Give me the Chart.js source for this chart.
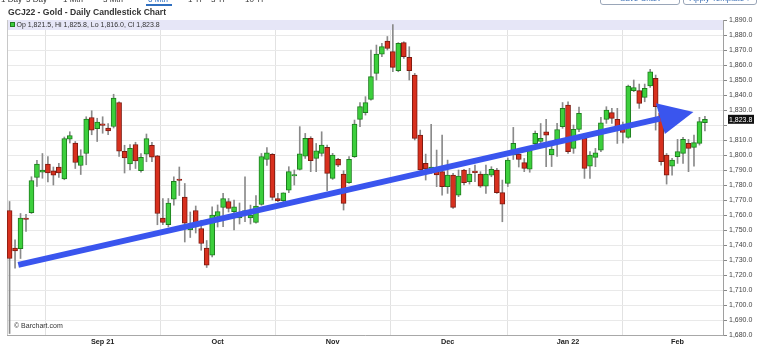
<!DOCTYPE html>
<html><head><meta charset="utf-8">
<script src="https://cdn.jsdelivr.net/npm/chart.js@4.4.1/dist/chart.umd.min.js"></script>
<style>
html,body{margin:0;padding:0;background:#fff;width:765px;height:352px;overflow:hidden;font-family:"Liberation Sans",Arial,sans-serif;}
#wrap{position:relative;width:765px;height:352px;overflow:hidden;}
#c{position:absolute;left:0;top:0;}
.t{position:absolute;white-space:nowrap;line-height:1;}
.tab{font-size:8px;color:#333;top:-3.8px;}
.btn{position:absolute;top:-9px;height:14px;border:1px solid #9aa6b8;border-radius:3px;font-size:8px;color:#3b6fb6;line-height:14px;text-align:center;box-sizing:border-box;}
</style></head>
<body><div id="wrap">
<canvas id="c" width="765" height="352"></canvas>
<div class="t tab" style="left:1px">1 Day</div>
<div class="t tab" style="left:26px">5 Day</div>
<div class="t tab" style="left:63px">1 Mth</div>
<div class="t tab" style="left:103px">3 Mth</div>
<div class="t tab" style="left:148px;color:#2f6fc0">6 Mth</div>
<div style="position:absolute;left:146px;top:4px;width:26px;height:1.5px;background:#2f6fc0"></div>
<div class="t tab" style="left:188px">1 Yr</div>
<div class="t tab" style="left:211px">3 Yr</div>
<div class="t tab" style="left:245px">10 Yr</div>
<div class="btn" style="left:600px;width:80px">Save Chart</div>
<div class="btn" style="left:683px;width:74px">Apply Template ▾</div>
<div class="t" style="left:8px;top:8.2px;font-size:8.6px;font-weight:bold;color:#333">GCJ22 - Gold - Daily Candlestick Chart</div>
<div style="position:absolute;left:10px;top:21.7px;width:5px;height:5px;background:#3ccf3c;border:1px solid #1e7d1e;box-sizing:border-box"></div>
<div class="t" style="left:16.5px;top:20.8px;font-size:7px;color:#333" id="ohlc"></div>
<div class="t" style="left:14px;top:322px;font-size:7px;color:#333">© Barchart.com</div>
</div>
<script>
const opens  = [1763,1738,1737.5,1758,1761.5,1785,1788.5,1794,1789.5,1792,1784,1810.5,1808,1793,1801,1825,1817.5,1820.5,1818,1819,1835,1802.5,1794,1807,1789.5,1800.5,1806.5,1799.5,1758,1753.5,1770.5,1783.5,1772,1750,1763,1751,1738,1733.3,1759,1765,1769,1762.2,1758,1762,1758,1755,1767,1797,1800.5,1771,1769.5,1776.6,1786,1790.4,1799.3,1811.1,1797.7,1801.1,1805.1,1784.4,1797.1,1787.3,1781.5,1798.9,1823.7,1828.2,1837.1,1854.4,1867.3,1876,1868.9,1856.2,1874.9,1865.1,1853.3,1813.3,1794.4,1790,1790,1788.9,1778.9,1786.6,1773.3,1790,1782.2,1788.5,1787.3,1779.3,1786.6,1790,1774.9,1781.1,1800,1800.6,1794.9,1790.5,1807.5,1809,1815.5,1800,1810,1818.9,1833.3,1804.4,1817.1,1811.1,1792.6,1798.4,1803.3,1823.7,1828.2,1823.7,1818,1811.8,1842.9,1842.9,1838.4,1846,1851.1,1828,1800,1792.6,1798.9,1801.1,1807.7,1805.1,1807.7,1821.5];
const highs  = [1769,1743.5,1761,1760.5,1785.5,1796.5,1801,1799,1792,1794.5,1812,1815.5,1809,1803.5,1825.5,1829.5,1824.5,1825.5,1821,1840.5,1835.5,1806.5,1807,1808.5,1801,1814,1808.5,1799.8,1771,1771,1785.5,1792,1781,1762,1766,1756.5,1743,1765.5,1766.7,1774.4,1771,1770,1768,1785.5,1766.6,1773,1801,1805,1801,1774.4,1774.8,1792.2,1790,1818.9,1814.4,1812.2,1807.7,1815.5,1806.6,1801.1,1797.7,1789.5,1798.9,1823.3,1834.9,1838.9,1870,1873.3,1874.4,1879,1887,1874.9,1875.5,1872.2,1854.4,1816.6,1800.6,1820.4,1803.3,1813.3,1796.6,1787.7,1790,1790.4,1791.1,1793.3,1788.9,1793.3,1792.2,1791.1,1783.3,1798,1818.4,1803.4,1797.7,1805,1816,1821,1823.7,1808.9,1821.1,1835,1835.5,1820,1832,1814.4,1802.2,1804.4,1825.1,1832.2,1831.1,1831.1,1822,1846.6,1850,1847.3,1847.3,1857.1,1853.3,1830,1801,1797.7,1810.4,1811.7,1810.4,1813.3,1825.1,1825.8];
const lows   = [1681,1724.5,1731,1749,1761,1779,1784.5,1782,1780,1785,1783.5,1808,1791,1787,1793.5,1813.5,1809,1814.5,1813.5,1818,1799,1788,1790,1791,1788.5,1795.5,1795.5,1753.5,1753.5,1752,1766.5,1773,1742,1745,1748,1736.5,1725,1732,1752,1752.2,1762,1750,1754,1755.5,1754,1754.5,1766.5,1793,1770,1768.9,1768.9,1774.9,1780,1790,1797.7,1788.9,1788.9,1799.3,1776.2,1783.7,1792.2,1763.3,1781.1,1798.4,1818.9,1826.6,1836.6,1850,1865.5,1870,1855.5,1855.5,1864.4,1850,1810,1788.9,1783.3,1787.8,1778.9,1773.3,1774.4,1764.4,1772.2,1780,1780.6,1782.2,1778.4,1774.4,1785.5,1774.4,1755.5,1779,1797,1792,1788.9,1788.5,1806,1808,1792.2,1792.3,1799,1817.8,1801.1,1801.1,1815.5,1784.4,1784.4,1792.2,1802.2,1821.1,1821.1,1807.7,1808,1811.1,1842.2,1831.1,1835.5,1845.1,1816.6,1793.3,1780.6,1786.6,1794.4,1794.4,1788.9,1792.6,1806.6,1816.0];
const closes = [1731,1736,1758,1757,1783,1794,1790,1788,1786.5,1788,1811,1813,1795,1799.5,1824,1816.5,1822,1819.8,1816,1838,1802.5,1798,1804.5,1796,1798.5,1811,1798.5,1761,1755,1768,1782.5,1783,1754.5,1754,1752,1741,1726.5,1760,1762.2,1771,1764.4,1765.5,1761,1762.6,1760,1766,1799,1801.5,1771.7,1769.5,1774.8,1788.9,1786.5,1800.7,1811.1,1796.2,1802.8,1806.6,1787.8,1800,1793.3,1767.8,1797.1,1820.6,1832.2,1834.9,1852.2,1867.3,1872.2,1871,1858.4,1874.4,1865.5,1856.2,1811.1,1790,1790.8,1792,1786.7,1778.9,1786.6,1765.1,1786,1781.5,1787.3,1788.2,1779.3,1787.3,1790.4,1774.9,1767.3,1796.6,1807.7,1797,1791.1,1803,1814.5,1811.1,1813.3,1804,1817,1831.1,1802.2,1817.1,1827.7,1791.1,1800,1801.5,1821.5,1830,1824.4,1818.9,1815,1846,1845,1834.4,1844.4,1855.5,1832.2,1795.5,1786.6,1796.6,1802.2,1810.4,1804.4,1808.2,1822.2,1823.8];

const monthTickIdx    = [17, 38, 59, 80, 102, 122];
const monthTickLabels = ['Sep 21', 'Oct', 'Nov', 'Dec', 'Jan 22', 'Feb'];

// trend arrow (index, price)
const trendX = [1.59, 118.8];
const trendY = [1726.7, 1824.3];
const headX  = [118.04, 124.9, 119.69];
const headY  = [1834.5, 1828.7, 1814.0];

const UP_FILL='#3ccf3c', UP_LINE='#1e7d1e', DN_FILL='#d8301e', DN_LINE='#7d1a10', WICK='#8a8a8a', ARROW='#3a55ee';
const last = closes.length - 1;
const fmt = v => v.toLocaleString('en-US',{minimumFractionDigits:1,maximumFractionDigits:1});
document.getElementById('ohlc').textContent = 'Op ' + fmt(opens[last]) + ', Hi ' + fmt(highs[last]) + ', Lo ' + fmt(lows[last]) + ', Cl ' + fmt(closes[last]);

const idx = opens.map((_, i) => i);
const isUp = i => closes[i] >= opens[i];

const decor = {
  id: 'decor',
  beforeDatasetsDraw(chart) {
    const {ctx, chartArea: a} = chart;
    ctx.save();
    ctx.fillStyle = '#e6e6f7';
    ctx.fillRect(a.left, a.top, a.right - a.left, 10);
    ctx.strokeStyle = '#c8c8c8'; ctx.lineWidth = 1;
    ctx.beginPath(); ctx.moveTo(a.left + 0.5, a.top); ctx.lineTo(a.left + 0.5, a.bottom); ctx.stroke();
    ctx.restore();
  },
  afterDatasetsDraw(chart) {
    const {ctx, scales: {x, y}} = chart;
    ctx.save();
    ctx.strokeStyle = ARROW; ctx.fillStyle = ARROW; ctx.lineWidth = 6; ctx.lineCap = 'butt';
    ctx.beginPath();
    ctx.moveTo(x.getPixelForValue(trendX[0]), y.getPixelForValue(trendY[0]));
    ctx.lineTo(x.getPixelForValue(trendX[1]), y.getPixelForValue(trendY[1]));
    ctx.stroke();
    ctx.beginPath();
    headX.forEach((hx, k) => {
      const px = x.getPixelForValue(hx), py = y.getPixelForValue(headY[k]);
      if (k) ctx.lineTo(px, py); else ctx.moveTo(px, py);
    });
    ctx.closePath(); ctx.fill();
    ctx.restore();
  },
  afterDraw(chart) {
    const {ctx, scales: {y}, chartArea: a} = chart;
    const py = y.getPixelForValue(closes[last]);
    ctx.save();
    ctx.fillStyle = '#111';
    ctx.fillRect(a.right + 5, py - 4.5, 26, 9);
    ctx.fillStyle = '#fff'; ctx.font = '7px "Liberation Sans", Arial, sans-serif';
    ctx.textBaseline = 'middle'; ctx.textAlign = 'left';
    ctx.fillText(fmt(closes[last]), a.right + 6, py + 0.5);
    ctx.restore();
  }
};

new Chart(document.getElementById('c'), {
  type: 'bar',
  data: {
    datasets: [
      {
        label: 'body',
        data: idx.map(i => ({x: i, y: [opens[i], closes[i]]})),
        backgroundColor: c => isUp(c.dataIndex) ? UP_FILL : DN_FILL,
        borderColor: c => isUp(c.dataIndex) ? UP_LINE : DN_LINE,
        borderWidth: 1, borderSkipped: false,
        barThickness: 5, grouped: false, minBarLength: 1.5
      },
      {
        label: 'wick',
        data: idx.map(i => ({x: i, y: [lows[i], highs[i]]})),
        backgroundColor: WICK, borderWidth: 0,
        barThickness: 1, grouped: false
      }
    ]
  },
  options: {
    responsive: false, animation: false,
    layout: {padding: {left: 7, top: 20, right: 0, bottom: 0}},
    plugins: {legend: {display: false}, tooltip: {enabled: false}},
    scales: {
      x: {
        type: 'linear', min: -0.47, max: 130.3, offset: false,
        afterBuildTicks: s => { s.ticks = monthTickIdx.map(v => ({value: v})); },
        afterFit: s => { s.height = 17; },
        ticks: {
          autoSkip: false, maxRotation: 0, padding: 3,
          callback: v => monthTickLabels[monthTickIdx.indexOf(v)],
          font: {family: '"Liberation Sans", Arial, sans-serif', size: 7.3, weight: 'bold'}, color: '#222'
        },
        grid: {color: '#e2e2e2', drawTicks: false},
        border: {color: '#a8a8a8'}
      },
      y: {
        position: 'right', min: 1680, max: 1890,
        afterFit: s => { s.width = 42; },
        ticks: {
          stepSize: 10, padding: 2,
          callback: v => Math.abs(v - closes[last]) < 6 ? '' : fmt(v),
          font: {family: '"Liberation Sans", Arial, sans-serif', size: 7}, color: '#444'
        },
        grid: {color: '#e9e9e9', tickLength: 4, tickColor: '#888'},
        border: {color: '#a0a0a0'}
      }
    }
  },
  plugins: [decor]
});
</script>
</body></html>
